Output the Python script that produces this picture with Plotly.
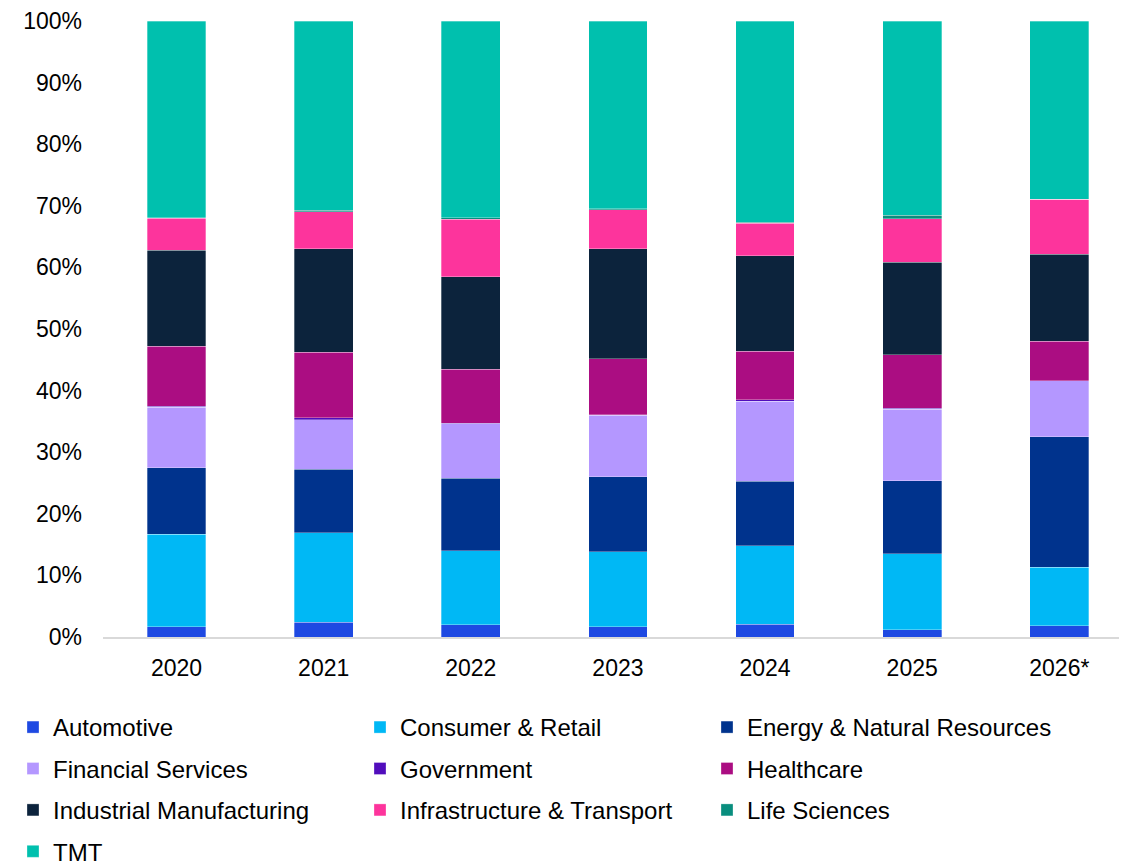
import plotly.graph_objects as go

years = ["2020", "2021", "2022", "2023", "2024", "2025", "2026*"]

automotive = [1.7, 2.4, 2.0, 1.7, 2.1, 1.2, 1.8]
consumer_retail = [15.0, 14.5, 12.0, 12.1, 12.7, 12.3, 9.5]
energy = [10.8, 10.3, 11.8, 12.2, 10.5, 11.9, 21.2]
financial = [9.8, 8.1, 8.8, 10.0, 13.0, 11.6, 9.1]
government = [0.2, 0.3, 0.1, 0.1, 0.2, 0.1, 0.0]
healthcare = [9.7, 10.6, 8.8, 9.1, 7.9, 8.7, 6.4]
industrial = [15.6, 16.8, 15.0, 17.8, 15.5, 15.0, 14.1]
infrastructure = [5.2, 6.0, 9.3, 6.4, 5.3, 7.1, 9.0]
life_sciences = [0.1, 0.3, 0.3, 0.1, 0.1, 0.6, 0.0]
tmt = [31.9, 30.7, 31.9, 30.5, 32.7, 31.5, 28.9]

# legend column each series sits in (reference legend is 3 columns wide)
series = [
    ("Automotive", automotive, "#1E49E2", "legend"),
    ("Consumer & Retail", consumer_retail, "#00B8F5", "legend2"),
    ("Energy & Natural Resources", energy, "#00338D", "legend3"),
    ("Financial Services", financial, "#B497FF", "legend"),
    ("Government", government, "#510DBC", "legend2"),
    ("Healthcare", healthcare, "#AB0D82", "legend3"),
    ("Industrial Manufacturing", industrial, "#0C233C", "legend"),
    ("Infrastructure & Transport", infrastructure, "#FD349C", "legend2"),
    ("Life Sciences", life_sciences, "#098E7E", "legend3"),
    ("TMT", tmt, "#00C0AE", "legend"),
]

font = "Liberation Sans, Arial, sans-serif"

# page body has an 8px margin, so the figure is a bit smaller than the window
W, H = 1119, 854

fig = go.Figure()

for name, values, color, leg in series:
    fig.add_trace(
        go.Bar(
            x=years,
            y=[v / 100 for v in values],
            name=name,
            legend=leg,
            legendgroup=name,
            marker=dict(color=color, line=dict(color="rgba(255,255,255,0.5)", width=0.6)),
        )
    )

legend_common = dict(
    orientation="v",
    traceorder="grouped",
    xref="container",
    yref="container",
    xanchor="left",
    yanchor="top",
    y=1 - 697 / H,
    tracegroupgap=7.2,
    font=dict(family=font, size=24, color="#000000"),
    bgcolor="rgba(0,0,0,0)",
    itemclick=False,
)

fig.update_layout(
    barmode="stack",
    bargap=0.6,
    width=W,
    height=H,
    margin=dict(l=95, r=0, t=13, b=225, autoexpand=False),
    paper_bgcolor="white",
    plot_bgcolor="white",
    font=dict(family=font, size=23, color="#000000"),
    legend=dict(legend_common, x=5 / W),
    legend2=dict(legend_common, x=352 / W),
    legend3=dict(legend_common, x=699 / W),
    xaxis=dict(
        showgrid=False,
        showline=True,
        linecolor="#D9D9D9",
        linewidth=1.5,
        ticks="",
        range=[-0.5, 6.46],
        automargin=False,
        ticklabelstandoff=10,
        tickfont=dict(family=font, size=23, color="#000000"),
    ),
    yaxis=dict(
        range=[0, 1],
        dtick=0.1,
        tickformat=".0%",
        showgrid=False,
        showline=False,
        zeroline=False,
        ticks="",
        automargin=False,
        ticklabelstandoff=20,
        tickfont=dict(family=font, size=23, color="#000000"),
    ),
)

fig.write_html("out.html")
